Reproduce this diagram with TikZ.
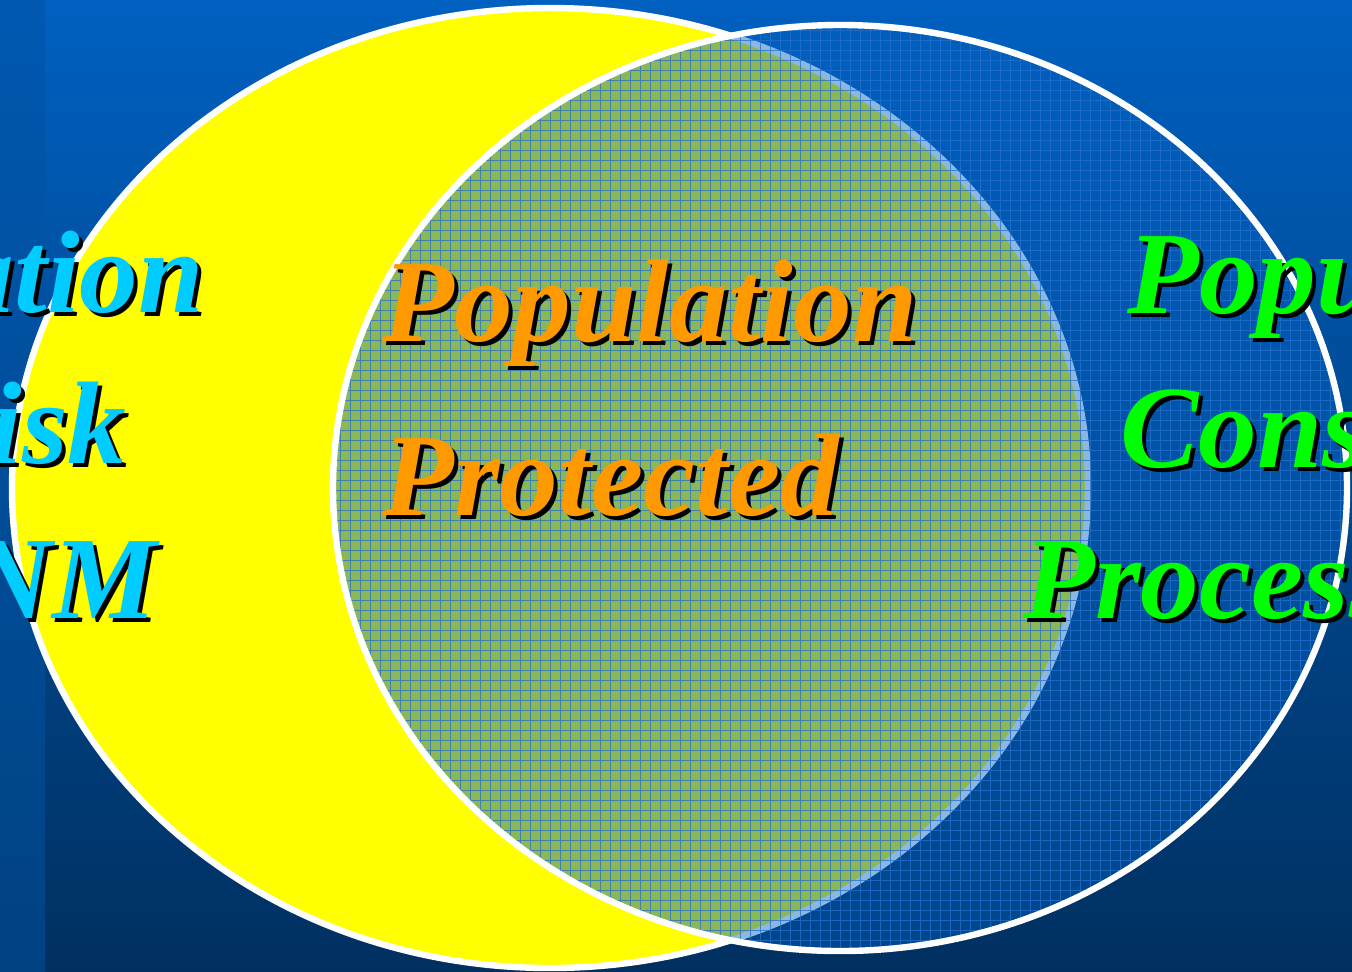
\documentclass[tikz,border=0pt]{standalone}
\usepackage{fontspec}
\setmainfont{Liberation Serif}
\definecolor{bgtop}{HTML}{0060C0}
\definecolor{bgbot}{HTML}{003060}
\definecolor{striptop}{HTML}{0058B0}
\definecolor{stripbot}{HTML}{004282}
\definecolor{ovalblue}{HTML}{0060C0}
\definecolor{gridblue}{HTML}{2670CC}
\definecolor{pureyellow}{HTML}{FFFF00}
\definecolor{txtcyan}{HTML}{00CCFF}
\definecolor{txtorange}{HTML}{FF9900}
\definecolor{txtgreen}{HTML}{00FF00}
\tikzset{
  bigtxt/.style={inner sep=0pt, font=\fontsize{58.7}{60}\selectfont\bfseries\itshape},
  shadowtxt/.style={bigtxt, text=black},
  outline/.style={draw=white, line width=3.2pt},
}
\begin{document}
\begin{tikzpicture}[x=0.5pt, y=-0.5pt]
\useasboundingbox (0,0) rectangle (1352,971);
\clip (0,0) rectangle (1352,971);
% background
\shade[top color=bgtop, bottom color=bgbot] (0,0) rectangle (1352,971);
\shade[top color=striptop, bottom color=stripbot] (0,0) rectangle (45,971);
% left (yellow) ellipse
\fill[pureyellow] (550,488) ellipse [x radius=269pt, y radius=240pt];
\draw[outline] (550,488) ellipse [x radius=269pt, y radius=240pt];
% right translucent gridded ellipse
\fill[ovalblue, fill opacity=0.45] (840,488) ellipse [x radius=253.5pt, y radius=231.5pt];
\begin{scope}
  \clip (840,488) ellipse [x radius=253.5pt, y radius=231.5pt];
  \draw[gridblue, line width=0.5pt, opacity=0.75] (330,20) grid[step=5pt] (1360,960);
\end{scope}
\draw[outline] (840,488) ellipse [x radius=253.5pt, y radius=231.5pt];
% left texts
\node[shadowtxt, anchor=base east] (l1s) at (208,316) {ation};
\node[bigtxt, text=txtcyan, anchor=base east] (l1) at (204,312) {ation};
\node[shadowtxt, anchor=base east] (l2s) at (131,467) {Risk};
\node[bigtxt, text=txtcyan, anchor=base east] (l2) at (127,463) {Risk};
\node[shadowtxt, anchor=base east] (l3s) at (161,622) {NM};
\node[bigtxt, text=txtcyan, anchor=base east] (l3) at (157,618) {NM};
% centre texts
\node[shadowtxt, anchor=base west] (c1s) at (386,345) {Population};
\node[bigtxt, text=txtorange, anchor=base west] (c1) at (382,341) {Population};
\node[shadowtxt, anchor=base west] (c2s) at (386,519) {Protected};
\node[bigtxt, text=txtorange, anchor=base west] (c2) at (382,515) {Protected};
% right texts
\node[shadowtxt, anchor=base west] (r1s) at (1131,317) {Popu};
\node[bigtxt, text=txtgreen, anchor=base west] (r1) at (1127,313) {Popu};
\node[shadowtxt, anchor=base west] (r2s) at (1124,471) {Const};
\node[bigtxt, text=txtgreen, anchor=base west] (r2) at (1120,467) {Const};
\node[shadowtxt, anchor=base west] (r3s) at (1027,622) {Process};
\node[bigtxt, text=txtgreen, anchor=base west] (r3) at (1023,618) {Process};
\end{tikzpicture}
\end{document}
